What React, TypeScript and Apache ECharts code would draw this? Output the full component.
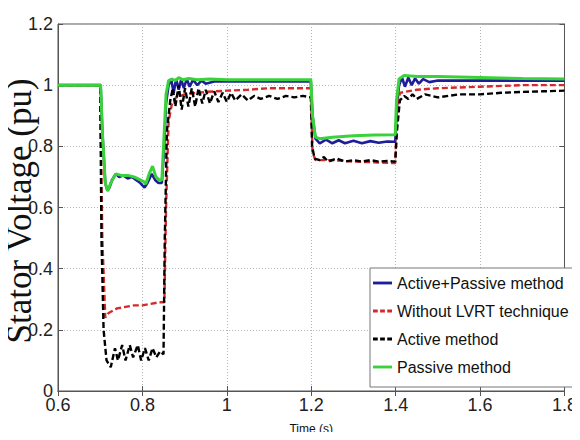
import React, { useEffect, useRef } from "react";
import * as echarts from "echarts";

const xTicks = [0.6, 0.8, 1.0, 1.2, 1.4, 1.6, 1.8];
const yTicks = [0, 0.2, 0.4, 0.6, 0.8, 1.0, 1.2];

const seriesNames = ["Active+Passive method", "Without LVRT technique", "Active method", "Passive method"];

// Active+Passive method
const apT = [0.6, 0.65, 0.701, 0.705, 0.712, 0.717, 0.722, 0.728, 0.737, 0.745, 0.755, 0.765, 0.775, 0.785, 0.795, 0.805, 0.812, 0.822, 0.83, 0.838, 0.846, 0.851, 0.856, 0.862, 0.868, 0.874, 0.88, 0.886, 0.892, 0.898, 0.905, 0.912, 0.92, 0.93, 0.94, 0.95, 0.97, 1.0, 1.1, 1.199, 1.203, 1.21, 1.22, 1.235, 1.25, 1.265, 1.28, 1.3, 1.32, 1.34, 1.36, 1.38, 1.399, 1.403, 1.408, 1.415, 1.422, 1.43, 1.438, 1.446, 1.455, 1.465, 1.48, 1.5, 1.6, 1.7, 1.8];
const apV = [1.0, 1.0, 1.0, 0.85, 0.68, 0.655, 0.665, 0.69, 0.71, 0.70, 0.705, 0.695, 0.70, 0.69, 0.68, 0.665, 0.68, 0.71, 0.69, 0.68, 0.68, 0.78, 0.94, 1.0, 1.02, 0.975, 1.02, 0.985, 1.02, 0.99, 1.02, 0.995, 1.018, 1.0, 1.015, 1.005, 1.012, 1.012, 1.012, 1.012, 0.9, 0.825, 0.81, 0.822, 0.81, 0.82, 0.81, 0.818, 0.81, 0.817, 0.812, 0.816, 0.815, 0.93, 1.0, 1.025, 0.995, 1.025, 1.0, 1.022, 1.005, 1.02, 1.01, 1.015, 1.015, 1.015, 1.015];

// Without LVRT technique
const wlT = [0.6, 0.65, 0.70, 0.705, 0.712, 0.72, 0.74, 0.76, 0.78, 0.80, 0.82, 0.84, 0.852, 0.856, 0.862, 0.87, 0.88, 0.90, 0.95, 1.0, 1.05, 1.1, 1.15, 1.199, 1.203, 1.21, 1.25, 1.3, 1.35, 1.399, 1.403, 1.41, 1.45, 1.5, 1.6, 1.7, 1.8];
const wlV = [1.0, 1.0, 1.0, 0.5, 0.24, 0.255, 0.27, 0.275, 0.28, 0.28, 0.285, 0.29, 0.29, 0.6, 0.88, 0.94, 0.96, 0.97, 0.978, 0.982, 0.985, 0.99, 0.99, 0.99, 0.78, 0.755, 0.755, 0.75, 0.748, 0.745, 0.9, 0.975, 0.985, 0.99, 0.995, 1.0, 1.0];

// Active method
const acT = [0.6, 0.65, 0.70, 0.703, 0.708, 0.715, 0.725, 0.735, 0.742, 0.752, 0.76, 0.77, 0.778, 0.789, 0.797, 0.806, 0.815, 0.824, 0.833, 0.842, 0.85, 0.853, 0.858, 0.866, 0.872, 0.878, 0.886, 0.893, 0.901, 0.909, 0.917, 0.925, 0.933, 0.942, 0.95, 0.96, 0.97, 0.98, 0.99, 1.0, 1.01, 1.02, 1.035, 1.05, 1.065, 1.08, 1.1, 1.12, 1.14, 1.16, 1.18, 1.199, 1.202, 1.208, 1.22, 1.23, 1.24, 1.26, 1.28, 1.3, 1.32, 1.34, 1.36, 1.38, 1.399, 1.403, 1.41, 1.42, 1.43, 1.44, 1.45, 1.47, 1.5, 1.55, 1.6, 1.65, 1.7, 1.75, 1.8];
const acV = [1.0, 1.0, 1.0, 0.5, 0.2, 0.1, 0.078, 0.14, 0.1, 0.15, 0.1, 0.15, 0.11, 0.15, 0.1, 0.14, 0.1, 0.14, 0.11, 0.13, 0.12, 0.5, 0.85, 0.95, 0.99, 0.93, 1.0, 0.92, 0.99, 0.93, 0.99, 0.93, 0.99, 0.94, 0.985, 0.94, 0.98, 0.945, 0.975, 0.945, 0.975, 0.95, 0.97, 0.95, 0.965, 0.955, 0.965, 0.955, 0.965, 0.96, 0.965, 0.96, 0.8, 0.76, 0.755, 0.765, 0.75, 0.76, 0.75, 0.755, 0.75, 0.755, 0.75, 0.752, 0.75, 0.85, 0.95, 0.965, 0.955, 0.97, 0.955, 0.97, 0.96, 0.97, 0.97, 0.975, 0.978, 0.98, 0.982];

// Passive method
const paT = [0.6, 0.65, 0.701, 0.705, 0.712, 0.718, 0.725, 0.737, 0.75, 0.765, 0.78, 0.795, 0.803, 0.808, 0.816, 0.824, 0.832, 0.84, 0.846, 0.85, 0.856, 0.862, 0.87, 0.878, 0.886, 0.895, 0.91, 0.93, 0.96, 1.0, 1.1, 1.199, 1.203, 1.21, 1.22, 1.25, 1.3, 1.35, 1.399, 1.402, 1.408, 1.42, 1.45, 1.5, 1.6, 1.7, 1.8];
const paV = [1.0, 1.0, 1.0, 0.85, 0.68, 0.655, 0.68, 0.71, 0.705, 0.705, 0.70, 0.69, 0.685, 0.677, 0.71, 0.735, 0.70, 0.69, 0.69, 0.8, 0.97, 1.015, 1.02, 1.015, 1.025, 1.018, 1.022, 1.018, 1.02, 1.018, 1.018, 1.018, 0.9, 0.83, 0.825, 0.83, 0.835, 0.837, 0.838, 0.95, 1.02, 1.032, 1.028, 1.028, 1.025, 1.022, 1.02];

const sans = "'Liberation Sans', Arial, sans-serif";
const solidIcon = "path://M0,0L20,0L20,3L0,3Z";
const dashIcon = "path://M0,0L5,0L5,3L0,3Z M7.5,0L12.5,0L12.5,3L7.5,3Z M15,0L20,0L20,3L15,3Z";

function zip(t: number[], v: number[]) {
  return t.map((x, i) => [x, v[i]]);
}

export default function App() {
  const ref = useRef<HTMLDivElement>(null);
  useEffect(() => {
    if (!ref.current) return;
    const chart = echarts.init(ref.current, null, { renderer: "svg" });
    const colors = ["#1e1e9a", "#d42a2a", "#000000", "#3ad23a"];
    const dashes = ["solid", [6, 3], [6, 3], "solid"];
    const icons = [solidIcon, dashIcon, dashIcon, solidIcon];
    const widths = [2.6, 2.4, 2.4, 3];
    const datas = [zip(apT, apV), zip(wlT, wlV), zip(acT, acV), zip(paT, paV)];
    chart.setOption({
      animation: false,
      backgroundColor: "#ffffff",
      grid: { left: 58, right: 10, top: 24, bottom: 47, show: true, borderColor: "#555", borderWidth: 1, backgroundColor: "transparent" },
      xAxis: [
        {
          type: "value",
          min: xTicks[0],
          max: xTicks[xTicks.length - 1],
          interval: 0.2,
          name: "Time (s)",
          nameLocation: "middle",
          nameGap: 32,
          nameTextStyle: { fontFamily: sans, fontSize: 12, color: "#111" },
          axisLine: { lineStyle: { color: "#555", width: 1 } },
          axisTick: { inside: true, length: 5, lineStyle: { color: "#555" } },
          axisLabel: { fontFamily: sans, fontSize: 18, color: "#222", margin: 5 },
          splitLine: { show: true, lineStyle: { color: "#b5b5b5", type: [1, 2], width: 1 } },
        },
        {
          type: "value",
          position: "top",
          min: xTicks[0],
          max: xTicks[xTicks.length - 1],
          interval: 0.2,
          axisLine: { lineStyle: { color: "#555", width: 1 } },
          axisTick: { inside: true, length: 5, lineStyle: { color: "#555" } },
          axisLabel: { show: false },
          splitLine: { show: false },
        },
      ],
      yAxis: [
        {
          type: "value",
          min: yTicks[0],
          max: yTicks[yTicks.length - 1],
          interval: 0.2,
          axisLine: { show: true, lineStyle: { color: "#555", width: 1 } },
          axisTick: { show: true, inside: true, length: 5, lineStyle: { color: "#555" } },
          axisLabel: { fontFamily: sans, fontSize: 18, color: "#222", margin: 5 },
          splitLine: { show: true, lineStyle: { color: "#b5b5b5", type: [1, 2], width: 1 } },
        },
        {
          type: "value",
          position: "right",
          min: yTicks[0],
          max: yTicks[yTicks.length - 1],
          interval: 0.2,
          axisLine: { show: true, lineStyle: { color: "#555", width: 1 } },
          axisTick: { show: true, inside: true, length: 5, lineStyle: { color: "#555" } },
          axisLabel: { show: false },
          splitLine: { show: false },
        },
      ],
      legend: {
        orient: "vertical",
        left: 370,
        top: 268,
        backgroundColor: "#ffffff",
        borderColor: "#777",
        borderWidth: 1,
        borderRadius: 0,
        padding: [5, 6, 10, 3],
        itemWidth: 19,
        itemHeight: 3,
        itemGap: 8,
        textStyle: { fontFamily: sans, fontSize: 16, lineHeight: 20, color: "#111" },
        data: seriesNames.map((name, i) => ({ name, icon: icons[i] })),
      },
      graphic: [
        {
          type: "text",
          x: 19,
          y: 211,
          rotation: Math.PI / 2,
          style: {
            text: "Stator Voltage (pu)",
            fontFamily: "'Liberation Serif', 'Times New Roman', serif",
            fontSize: 35,
            fill: "#111",
            textAlign: "center",
            textVerticalAlign: "middle",
          },
        },
      ],
      series: seriesNames.map((name, i) => ({
        name,
        type: "line",
        data: datas[i],
        showSymbol: false,
        symbol: "none",
        color: colors[i],
        lineStyle: { color: colors[i], width: widths[i], type: dashes[i] },
        z: 2 + i,
      })),
    });
    return () => chart.dispose();
  }, []);
  return <div ref={ref} style={{ width: 580, height: 440, margin: -8 }} />;
}
